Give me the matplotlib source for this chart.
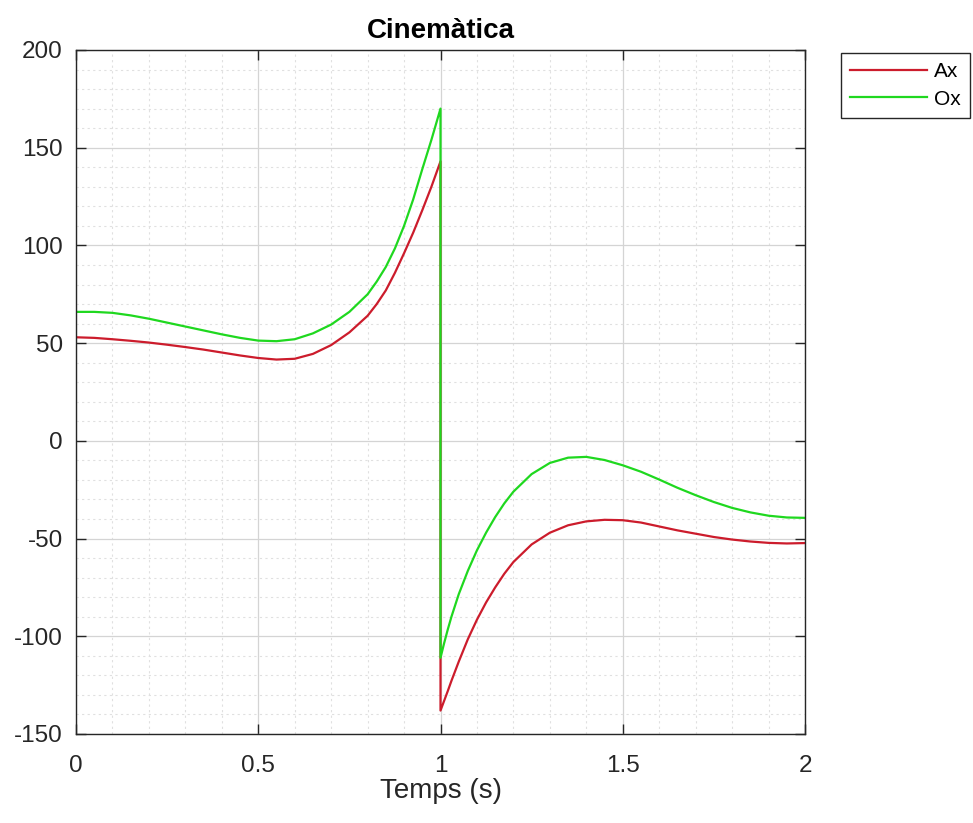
import numpy as np
import matplotlib
matplotlib.use("Agg")
import matplotlib.pyplot as plt
from matplotlib.ticker import MultipleLocator

plt.rcParams['font.family'] = ['Liberation Sans', 'DejaVu Sans']
plt.rcParams['axes.unicode_minus'] = False

# temps abans del salt (s)
t_abans = [0, 0.05, 0.1, 0.15, 0.2, 0.25, 0.3, 0.35, 0.4, 0.45, 0.5, 0.55,
           0.6, 0.65, 0.7, 0.75, 0.8, 0.825, 0.85, 0.875, 0.9, 0.925, 0.95, 0.975, 1.0]
ax_abans = [53, 52.7, 52, 51.2, 50.3, 49.2, 48, 46.7, 45.2, 43.7, 42.4, 41.6,
            42, 44.5, 49, 55.5, 64, 70, 77, 86, 96, 106.5, 118, 130, 143]
ox_abans = [66, 66, 65.5, 64.2, 62.5, 60.5, 58.5, 56.5, 54.5, 52.7, 51.3, 51,
            52, 55, 59.5, 66, 75, 81.5, 89, 98.5, 110, 123.5, 139, 154, 170]

# temps despres del salt (s)
t_despres = [1.0, 1.01, 1.02, 1.03, 1.05, 1.075, 1.1, 1.125, 1.15, 1.175, 1.2, 1.25,
             1.3, 1.35, 1.4, 1.45, 1.5, 1.55, 1.6, 1.65, 1.7, 1.75, 1.8, 1.85, 1.9, 1.95, 2.0]
ax_despres = [-138, -133, -128, -122.8, -113, -101.5, -91.5, -82.7, -75, -68, -62, -53,
              -47, -43.2, -41.2, -40.4, -40.6, -41.8, -43.8, -45.8, -47.5, -49.2, -50.5,
              -51.5, -52.2, -52.5, -52.3]
ox_despres = [-111, -103.5, -96.5, -90, -78.5, -66.5, -56, -47, -39, -32, -26, -17,
              -11.3, -8.6, -8.2, -9.8, -12.5, -15.8, -19.8, -24, -27.8, -31.3, -34.3,
              -36.6, -38.3, -39.2, -39.4]

t = t_abans + t_despres
Ax = ax_abans + ax_despres
Ox = ox_abans + ox_despres

fig = plt.figure(figsize=(9.73, 8.23), dpi=100)
ax = fig.add_axes([76/973, 1-734/823, 729/973, 684/823])

ax.plot(t, Ax, color='#cc1c2c', lw=1.6, label='Ax')
ax.plot(t, Ox, color='#1fd81f', lw=1.6, label='Ox')

ax.set_xlim(0, 2)
ax.set_ylim(-150, 200)
ax.xaxis.set_major_locator(MultipleLocator(0.5))
ax.xaxis.set_minor_locator(MultipleLocator(0.1))
ax.yaxis.set_major_locator(MultipleLocator(50))
ax.yaxis.set_minor_locator(MultipleLocator(10))
ax.set_xticks([0, 0.5, 1, 1.5, 2], ['0', '0.5', '1', '1.5', '2'])

ax.grid(which='major', color='#d4d4d4', lw=0.9)
ax.grid(which='minor', color='#e0e0e0', lw=0.8, ls=(0, (2, 3)))
ax.set_axisbelow(True)

ax.tick_params(which='major', direction='in', length=7, width=1, top=True, right=True,
               labelsize=17.5, colors='#262626')
ax.tick_params(axis='x', which='major', pad=15)
ax.tick_params(axis='y', which='major', pad=9.5)
ax.tick_params(which='minor', length=0)
for s in ax.spines.values():
    s.set_color('#262626')
    s.set_linewidth(1)

ax.set_xlabel('Temps (s)', fontsize=20, color='#262626', labelpad=1)
ax.set_title('Cinemàtica', fontsize=20, fontweight='bold', color='#000000', pad=9)

ax.legend(loc='upper left', bbox_to_anchor=(841/973, 1-53/823), bbox_transform=fig.transFigure,
          borderaxespad=0, fontsize=15, handlelength=3.7, handletextpad=0.3,
          frameon=True, fancybox=False, edgecolor='#262626', framealpha=1,
          borderpad=0.45, labelspacing=0.4)

fig.savefig('out.png', dpi=100)
